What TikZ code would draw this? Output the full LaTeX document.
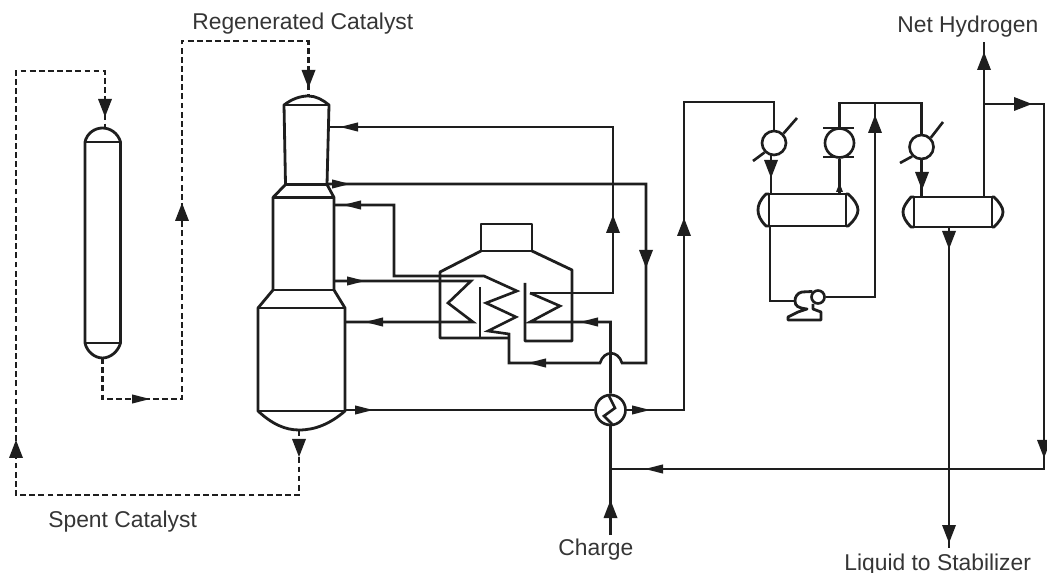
\documentclass[tikz,border=0pt]{standalone}
\usepackage{fontspec}
\setmainfont{Liberation Sans}
\usetikzlibrary{calc,positioning}
\definecolor{ink}{HTML}{1E1E1E}
\tikzset{
  pipe/.style={line width=1.5pt, draw=ink, line join=miter},
  cat/.style={pipe, line width=1.6pt, dash pattern=on 3.3pt off 1.9pt},
  wall/.style={line width=1.6pt, draw=ink, line join=round},
  ball/.style={circle, draw=ink, line width=1.5pt, fill=white, inner sep=0pt},
  lbl/.style={anchor=base west, inner sep=0pt, text=ink!90, font=\fontsize{13}{15}\selectfont},
  headwide/.pic={\fill[ink] (0,0)--(-18,-7)--(-18,7)--cycle;},
  headslim/.pic={\fill[ink] (0,0)--(-18,-4.6)--(-18,4.6)--cycle;},
  headtiny/.pic={\fill[ink] (0,0)--(-9,-3.5)--(-9,3.5)--cycle;},
}
\begin{document}
\begin{tikzpicture}[x=0.02cm,y=-0.02cm]
  \useasboundingbox (0,0) rectangle (1047,573);

  % --- Labels ---
  \node[lbl] (regen) at (192,30) {Regenerated Catalyst};
  \node[lbl] (spent) at (48,527) {Spent Catalyst};
  \node[lbl] (charge) at (558,555.5) {Charge};
  \node[lbl] (nethy) at (897,33) {Net Hydrogen};
  \node[lbl] (liquid) at (844,570) {Liquid to Stabilizer};

  % --- Regenerator ---
  \coordinate (v1top) at (102.5,128);
  \coordinate (v1bot) at (102.5,358);
  \draw[wall] (85,142) .. controls (87,133) and (95,128) .. (v1top)
    .. controls (110,128) and (118,133) .. (120.5,142) -- (120.5,343)
    .. controls (118,352) and (110,358) .. (v1bot)
    .. controls (95,358) and (87,352) .. (85,343) -- cycle;
  \draw[wall] (85,142)--(120.5,142);
  \draw[wall] (85,343)--(120.5,343);

  % --- Reactor stack ---
  \coordinate (rxtop) at (308.5,96);
  \coordinate (rxbot) at (299,430);
  \draw[wall] (284,105) .. controls (292,99) and (300,96) .. (rxtop)
    .. controls (316,96) and (323,100) .. (329,105)
    -- (327,184.5) -- (334,197.5) -- (334,290) -- (345,308) -- (345,411)
    .. controls (330,424) and (315,430) .. (rxbot)
    .. controls (285,430) and (272,424) .. (258,411)
    -- (258,308) -- (273,290) -- (273,197.5) -- (285.5,184.5) -- cycle;
  \draw[wall] (284,105)--(329,105);
  \draw[wall] (285.5,184.5)--(327,184.5);
  \draw[wall] (273,197.5)--(334,197.5);
  \draw[wall] (273,290)--(334,290);
  \draw[wall] (258,308)--(345,308);
  \draw[wall] (258,411)--(345,411);

  % --- Catalyst lines ---
  \coordinate (spentlow) at (16,495);
  \coordinate (spenthigh) at (16,71);
  \coordinate (reglow) at (182,399);
  \coordinate (reghigh) at (182,41);
  \draw[cat] (rxbot) |- (spentlow) -- (spenthigh) -| (105,128);
  \draw[cat] (v1bot) |- (reglow) -- (reghigh) -| (rxtop);

  % --- Heater ---
  \draw[wall] (481,224) rectangle (532,251);
  \draw[wall] (481,251) -- (440,272) -- (440,338) -- (509,338);
  \draw[wall] (532,251) -- (572,270) -- (572,341) -- (525,341) -- (525,283);
  \draw[wall] (480,287) -- (480,338);

  % --- Coils and heater feeds ---
  \node[ball, minimum size=30pt*0.569] (exch) at (610.5,410) {};
  \coordinate (rxa) at (329,127);
  \coordinate (rxb) at (327,184);
  \coordinate (rxc) at (334,205);
  \coordinate (rxd) at (334,281);
  \coordinate (rxe) at (345,322);
  \coordinate (rxf) at (345,410);
  \coordinate (risebend) at (613,293);
  \coordinate (backbend) at (394,276);
  \coordinate (downbend) at (646,363);
  \draw[pipe] (530,293) -- (560,306) -- (530,322) -- (610.5,322) -- (exch.north);
  \draw[pipe] (530,293) -- (risebend) |- (rxa);
  \draw[pipe] (rxd) -- (471,281) -- (448,303) -- (473,322) -- (rxe);
  \draw[pipe] (rxc) -| (backbend) -- (484,276) -- (517,291) -- (486,303)
    -- (516,317) -- (488,331) -- (509,334) -- (509,363) -- (600,363)
    .. controls (604,350) and (618,350) .. (622,363) -- (downbend) |- (rxb);
  \draw[pipe] (rxf) -- (exch.west);
  \draw[pipe] (609,396) -- (615,408) -- (604,416) -- (612,424);

  % --- Charge and recycle ---
  \coordinate (chargein) at (610.5,535);
  \coordinate (recycle) at (1044,104);
  \coordinate (recyclelow) at (1044,469);
  \coordinate (overbend) at (684,102);
  \draw[pipe] (chargein) -- (exch.south);
  \draw[pipe] (984,104) -- (recycle) -- (recyclelow) -- (610.5,469);

  % --- Overhead train ---
  \node[ball, minimum size=24pt*0.569] (cool) at (774,143) {};
  \node[ball, minimum size=29pt*0.569] (cond) at (839.5,143) {};
  \node[ball, minimum size=24pt*0.569] (trim) at (921.5,147) {};
  \draw[pipe] (exch.east) -- (684,410) -- (overbend) -| (cool.north);
  \draw[pipe] (753,161) -- (cool.south west);
  \draw[pipe] (cool.north east) -- (797,118);
  \draw[pipe] (900,163) -- (trim.south west);
  \draw[pipe] (trim.north east) -- (943,122);
  \draw[pipe] (823,128) -- (854,128);
  \draw[pipe] (823,157) -- (854,157);
  \draw[pipe] (839.5,194) -- (cond.south);
  \draw[pipe] (cond.north) |- (875,103) -| (trim.north);
  \draw[pipe] (771,155) -- (771,194);
  \draw[pipe] (921.5,159) -- (921.5,197);

  % --- Reflux drum ---
  \draw[wall] (769,194) rectangle (846,226);
  \draw[wall] (769,194) -- (766,194) .. controls (760,200) and (758,205) .. (758,210)
    .. controls (758,215) and (760,220) .. (766,226) -- (769,226);
  \draw[wall] (846,194) -- (848,194) .. controls (854,199) and (858,205) .. (858,210)
    .. controls (858,215) and (854,221) .. (848,226) -- (846,226);

  % --- Separator ---
  \draw[wall] (914,197) rectangle (992,227);
  \draw[wall] (914,197) -- (911,197) .. controls (906,203) and (903,207) .. (903,212)
    .. controls (903,217) and (906,222) .. (911,227) -- (914,227);
  \draw[wall] (992,197) -- (994,197) .. controls (999,202) and (1003,207) .. (1003,212)
    .. controls (1003,217) and (999,222) .. (994,227) -- (992,227);
  \coordinate (gasout) at (984,42);
  \coordinate (liqout) at (949,548);
  \draw[pipe] (984,197) -- (gasout);
  \draw[pipe] (949,227) -- (liqout);

  % --- Pump ---
  \node[ball, minimum size=13pt*0.569] (pumphead) at (818,297) {};
  \draw[pipe] (770,226) -- (770,301) -- (795,301);
  \draw[pipe] (pumphead.east) -- (875,297) -- (875,103);
  \draw[wall] (pumphead.north west) -- (802,292) .. controls (797,293) and (795,297) .. (795,301)
    .. controls (795,306) and (798,308) .. (807,309) -- (798,312) -- (788,317) -- (788,320)
    -- (821,320) -- (821,312) -- (813,309) -- (813,304);

  % --- Arrowheads ---
  \foreach \x/\y/\a in {105/117/-90, 182/203/90, 16/440/90, 299/457/-90, 308.5/88/-90,
      613/215/90, 646/268/-90, 684/218/90, 771/178/-90, 875/115/90, 922/190/-90,
      949/249/-90, 949/543/-90, 984/52/90, 1044/458/-90, 610.5/500/90, 1032/104/0}
    \pic[rotate=\a] at (\x,\y) {headwide};
  \foreach \x/\y/\a in {150/399/0, 340/127/180, 350/184/0, 343/205/180, 365/281/0,
      365/322/180, 373/410/0, 528/363/180, 580/322/180, 650/410/0, 645/469/180}
    \pic[rotate=\a] at (\x,\y) {headslim};
  \pic[rotate=90] at (839.5,183) {headtiny};
\end{tikzpicture}
\end{document}
